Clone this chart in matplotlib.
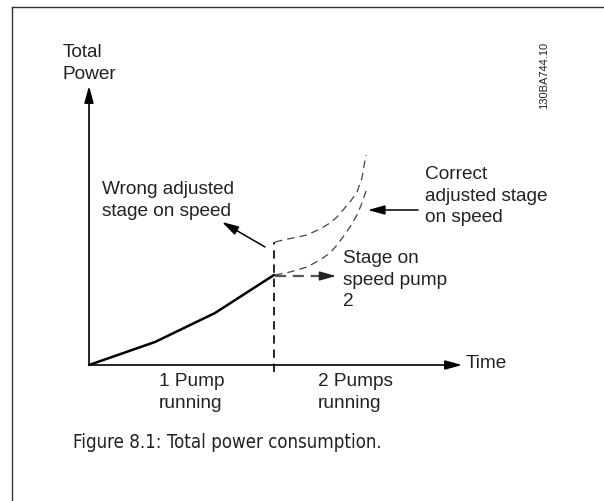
import matplotlib
matplotlib.use("Agg")
import matplotlib.pyplot as plt

plt.rcParams['font.family'] = ['Liberation Sans', 'DejaVu Sans']

# chart units: time to the right of the origin, power upward
power_t = [0, 66, 126, 185]
power_p = [0, 23, 52, 90]

switch_t = 185
switch_top = 123

wrong_t = [186, 194, 204, 218, 231, 241, 248, 254, 261, 268, 273, 276, 277]
wrong_p = [123, 125, 127, 130, 136, 142, 148, 155, 163, 173, 187, 205, 210]

correct_t = [186, 201, 218, 231, 241, 248, 254, 261, 268, 273, 278]
correct_p = [90, 93, 98, 105, 112, 120, 128, 138, 150, 162, 177]

stage_t = [186, 247]
stage_p = 89

fig = plt.figure(figsize=(6.04, 5.01), dpi=100)
ax = fig.add_axes([0, 0, 1, 1])
ax.set_xlim(-89, 515)
ax.set_ylim(-136, 365)
ax.axis('off')

# page frame (top and left rule)
ax.plot([-77, 515], [358, 358], color='#333333', lw=1.0)
ax.plot([-77, -77], [358, -136], color='#333333', lw=1.0)

head = '-|>,head_length=0.72,head_width=0.2'
def arrow(x0, y0, x1, y1, color='black', lw=1.2):
    ax.annotate('', xy=(x1, y1), xytext=(x0, y0),
                arrowprops=dict(arrowstyle=head, color=color, lw=lw,
                                shrinkA=0, shrinkB=0, mutation_scale=14))

# axes
arrow(0, 0, 0, 279)
arrow(0, 0, 373, 0)

# power with one pump
ax.plot(power_t, power_p, color='black', lw=1.8, solid_capstyle='round')

# pump switch-over
ax.plot([switch_t, switch_t], [-7, switch_top], color='black', lw=1.2,
        dashes=(5, 3.5))

ax.plot(wrong_t, wrong_p, color='#444444', lw=0.9, dashes=(6, 4))
ax.plot(correct_t, correct_p, color='#444444', lw=0.9, dashes=(6, 4))

ax.plot([stage_t[0], stage_t[1] - 12], [stage_p, stage_p], color='#555555',
        lw=1.6, dashes=(5, 3))
arrow(stage_t[1] - 13, stage_p, stage_t[1], stage_p, color='#222222', lw=1.0)

arrow(329, 155, 279, 155, lw=1.1)
arrow(176, 118, 133, 143, lw=1.1)

fs = 13.7
ls = 1.35
txt = dict(fontsize=fs, va='top', ha='left', color='#222222', linespacing=ls)
ax.text(-26, 321, 'Total\nPower', **txt)
ax.text(13, 184, 'Wrong adjusted\nstage on speed', **txt)
ax.text(336, 199, 'Correct\nadjusted stage\non speed', **txt)
ax.text(254, 115, 'Stage on\nspeed pump\n2', **txt)
ax.text(70, -8, '1 Pump\nrunning', **txt)
ax.text(229, -8, '2 Pumps\nrunning', **txt)
ax.text(377, 1.5, 'Time', fontsize=fs, va='center', ha='left', color='#222222')

ax.text(455, 290, '130BA744.10', fontsize=8, rotation=90, va='center', ha='center',
        color='#222222')

ax.text(-16, -68, 'Figure 8.1: Total power consumption.', fontsize=13.4, va='top',
        ha='left', family=['DejaVu Sans'], fontstretch='condensed', color='#222222')

fig.savefig('out.png', dpi=100)
